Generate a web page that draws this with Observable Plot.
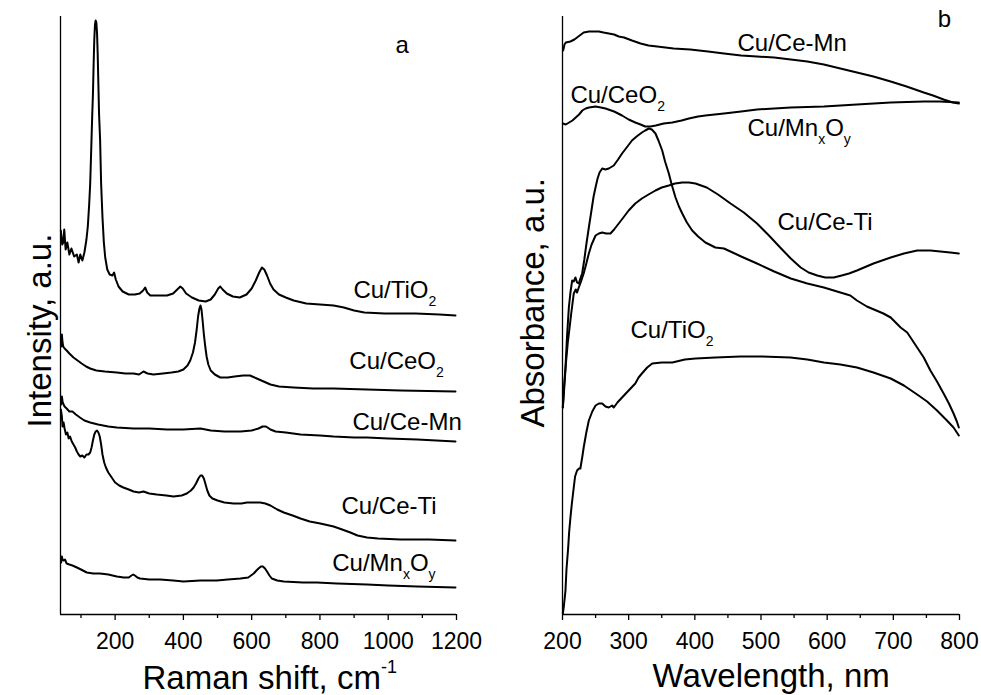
<!DOCTYPE html>
<html><head><meta charset="utf-8">
<script src="https://cdn.jsdelivr.net/npm/d3@7"></script>
<script src="https://cdn.jsdelivr.net/npm/@observablehq/plot@0.6"></script>
<style>
body{margin:0;background:#fff;}
#wrap{display:flex;width:981px;height:695px;}
#wrap svg{display:block;}
</style></head><body><div id="wrap"></div>
<script>
// ---------- Panel a: Raman spectra (x: cm-1, y: intensity, a.u.) ----------
const ramanTiO2 = [[41,384],[45,370],[48,372],[51,385],[55,365],[60,372],[66,360],[72,366],[80,358],[88,360],[93,352],[98,360],[104,354],[110,362],[116,375],[120,388],[124,410],[127,431],[130,465],[133,500],[135,520],[137,550],[139,575],[141,590],[143,594],[145,592],[147,582],[149,560],[151,530],[153,500],[156,475],[159,431],[163,397],[167,372],[171,357],[177,345],[184,340],[192,339],[197,342],[202,335],[210,328],[222,323],[240,320],[258,320],[272,321],[282,324],[288,327],[294,322],[303,319],[330,319],[352,319],[370,321],[382,325],[391,328],[398,326],[408,321],[425,317],[445,314],[465,313],[480,315],[492,320],[502,326],[508,328],[515,325],[527,321],[545,318],[565,317],[585,320],[600,326],[612,334],[622,342],[630,347],[637,345],[645,339],[654,331],[664,325],[680,320],[700,317],[723,314],[760,311],[800,310],[840,309],[870,307],[900,304],[930,302],[990,301],[1080,301],[1150,300],[1197,299]];
const ramanCeO2 = [[43,268],[44,280],[46,272],[48,268],[52,266],[58,264],[66,261],[78,257],[90,254],[102,251],[115,248],[127,246],[145,244],[170,243],[205,242],[230,241],[254,241],[270,240],[283,243],[295,241],[312,240],[340,241],[365,242],[385,243],[400,245],[412,249],[420,254],[428,262],[434,272],[439,285],[443,298],[447,306],[450,309],[453,305],[456,295],[460,280],[464,268],[468,258],[473,250],[480,244],[492,240],[508,237],[530,237],[550,238],[575,239],[595,239],[615,236],[635,233],[655,230],[680,228],[723,227],[780,226],[840,226],[938,225],[1036,224],[1197,223]];
const ramanCeMn = [[42,210],[44,218],[46,213],[49,210],[52,208],[58,206],[66,203],[75,203],[85,200],[97,197],[110,194],[127,192],[150,190],[180,188],[205,187],[254,186],[300,186],[352,185],[400,185],[450,186],[480,184],[520,183],[567,183],[600,184],[620,186],[632,188],[642,188],[655,185],[670,183],[700,182],[743,180],[800,179],[840,178],[900,177],[938,177],[1000,176],[1085,175],[1197,173]];
const ramanCeTi = [[41,205],[44,198],[46,188],[49,192],[52,186],[56,180],[60,182],[64,176],[68,178],[73,173],[78,170],[83,167],[88,163],[93,160],[98,158],[104,159],[110,157],[116,160],[122,160],[127,162],[131,167],[135,174],[139,180],[143,183],[147,184],[151,182],[155,178],[159,170],[163,160],[168,152],[173,147],[180,142],[190,137],[200,132],[212,129],[224,127],[240,125],[254,123],[270,122],[283,123],[300,121],[322,120],[350,119],[371,118],[395,119],[410,121],[422,124],[430,127],[437,131],[444,136],[450,139],[455,139],[460,136],[465,130],[470,124],[476,119],[485,116],[500,114],[520,112],[547,111],[570,111],[586,112],[605,112],[625,112],[640,111],[655,109],[675,105],[694,102],[720,99],[743,96],[770,93],[801,91],[840,88],[865,85],[889,82],[910,79],[938,77],[970,76],[1036,75],[1120,75],[1197,74]];
const ramanMnOx = [[42,52],[44,58],[46,55],[49,54],[53,55],[58,51],[66,50],[75,49],[88,47],[100,45],[117,42],[136,41],[156,41],[180,40],[205,38],[225,37],[240,37],[248,39],[253,40],[258,39],[265,37],[273,36],[300,35],[332,35],[370,34],[400,33],[450,34],[498,34],[530,35],[567,36],[590,37],[606,41],[614,44],[620,46],[627,48],[633,48],[639,46],[645,43],[652,39],[659,36],[675,34],[694,33],[750,32],[791,32],[850,31],[938,30],[1000,29],[1085,28],[1197,27]];
const ramanNames = ["Cu/TiO2", "Cu/CeO2", "Cu/Ce-Mn", "Cu/Ce-Ti", "Cu/MnxOy"];
const ramanMajorTicks = [200, 400, 600, 800, 1000, 1200];
const ramanMinorTicks = [100, 300, 500, 700, 900, 1100];
const ramanLabelText = ["Cu/TiO_2", "Cu/CeO_2", "Cu/Ce-Mn", "Cu/Ce-Ti", "Cu/Mn_xO_y", "a"];
const ramanLabelX = [898, 886, 895, 863, 836, 1021];
const ramanLabelY = [317, 246, 185, 101, 44, 562];

// ---------- Panel b: UV-vis spectra (x: nm, y: absorbance, a.u.) ----------
const uvCeMn = [[201,564],[203,570],[205,572],[212,573],[218,575],[222,577],[228,580],[232,582],[240,583],[247,583],[255,583],[262,582],[270,581],[278,580],[285,578],[293,577],[305,574],[318,571],[330,569],[343,568],[368,566],[393,565],[420,563],[444,561],[470,559],[494,558],[520,557],[545,555],[570,553],[595,550],[620,546],[645,542],[670,538],[696,533],[720,528],[746,522],[760,519],[776,515],[790,512],[799,511]];
const uvMnOx = [[200.5,491],[205,490],[210,492],[215,494],[220,497],[225,500],[230,504],[235,506],[240,507],[250,508],[258,507],[265,506],[278,503],[290,499],[300,495],[310,492],[318,490],[325,488],[333,488],[341,489],[353,491],[366,492],[380,494],[391,496],[405,498],[416,499],[444,501],[470,503],[494,505],[520,506],[545,507],[595,508],[645,510],[696,512],[746,513],[770,513],[799,512]];
const uvCeO2 = [[200.5,207],[202,225],[204.5,247],[207,280],[209.6,307],[212,322],[214.6,334],[217,333],[219.6,337],[222,332],[224.6,331],[227,336],[229.7,341],[233,355],[236,370],[239.8,387],[244,405],[247,418],[249.9,427],[253,436],[256,442],[260,446],[265,445],[270,446],[277.5,449],[284,455],[290,461],[297,467],[305,474],[312,478],[320,482],[325,484],[330.5,486],[335,485],[340.5,481],[345,474],[350.7,464],[355,453],[360.7,441],[365,430],[370.8,417],[376,408],[381,401],[388,392],[396,384],[405,378],[416,372],[431,367],[444,366],[470,358],[494,351],[520,343],[545,336],[570,331],[595,327],[620,322],[635,319],[645,314],[660,308],[685,301],[696,297],[711,287],[721,282],[736,267],[746,257],[756,244],[766,233],[776,221],[784,211],[791,201],[796,193],[799,187]];
const uvCeTi = [[200.5,207],[202,220],[205,250],[208,272],[210,283],[213,300],[217,321],[220,325],[222,322],[224.6,327],[228,333],[232,341],[236,351],[239.8,361],[244,370],[250,379],[255,381],[260,382],[266,381],[272.5,381],[278,385],[285,391],[292,397],[300,404],[310,411],[320,416],[330,420],[340.5,424],[350,427],[360.7,429],[370,431],[381,432],[391,432],[401,431],[418,427],[435,420],[454,411],[474,402],[494,391],[512,379],[529,367],[545,356],[560,347],[572,342],[585,339],[597,337],[610,337],[622,339],[633,341],[645,344],[670,351],[696,357],[716,361],[736,364],[756,364],[771,363],[786,362],[799,361]];
const uvTiO2 = [[200.5,1],[202,8],[204.5,24],[206,45],[208.6,67],[210,82],[212,97],[214,110],[217,127],[219,138],[222,144],[225,146],[227,146],[230,158],[232,167],[236,182],[239.8,194],[245,203],[250,209],[255,211],[260,211],[265,208],[270,207],[275,209],[277.5,207],[283,212],[290,217],[300,224],[310,231],[315,237],[320,241],[328,247],[335.6,251],[350,252],[366,252],[385,255],[401,256],[431,257],[469,258],[500,258],[544.6,257],[570,255],[595,252],[620,250],[645,247],[670,242],[696,236],[716,229],[736,220],[751,213],[766,204],[781,194],[791,187],[799,179]];
const uvNames = ["Cu/Ce-Mn", "Cu/MnxOy", "Cu/CeO2", "Cu/Ce-Ti", "Cu/TiO2"];
const uvMajorTicks = [200, 300, 400, 500, 600, 700, 800];
const uvMinorTicks = [250, 350, 450, 550, 650, 750];
const uvLabelText = ["Cu/Ce-Mn", "Cu/CeO_2", "Cu/Mn_xO_y", "Cu/Ce-Ti", "Cu/TiO_2", "b"];
const uvLabelX = [464.5, 212, 479.6, 525, 302.8, 767];
const uvLabelY = [564, 512, 479, 385, 277, 588];

const FONT = '"Liberation Sans", Arial, Helvetica, sans-serif';

function toRows(series, names) {
  return series.flatMap((s, i) => s.map(([x, y]) => ({x, y, name: names[i]})));
}
function toLabels(t, xs, ys) {
  return t.map((text, i) => ({text, x: xs[i], y: ys[i]}));
}

function panel(o) {
  return Plot.plot({
    width: o.width, height: 695,
    marginTop: 16, marginBottom: 81, marginLeft: o.marginLeft, marginRight: o.marginRight,
    style: {fontFamily: FONT, color: "#000", background: "#fff", overflow: "visible"},
    x: {domain: o.xDomain, axis: null},
    y: {domain: [0, 598], axis: null},
    marks: [
      Plot.ruleX([o.xDomain[0]], {stroke: "#000", strokeWidth: 1.3}),
      Plot.ruleY([0], {stroke: "#000", strokeWidth: 1.3}),
      Plot.axisX({ticks: o.major, tickSize: 6, tickPadding: 12, fontSize: 23, label: null, strokeWidth: 1.3, tickFormat: d => String(d)}),
      Plot.axisX({ticks: o.minor, tickSize: 4, tickFormat: () => "", label: null, strokeWidth: 1.3}),
      Plot.line(o.rows, {x: "x", y: "y", z: "name", stroke: "#000", strokeWidth: 2, strokeLinejoin: "round"}),
      Plot.text(o.labels, {x: "x", y: "y", text: "text", textAnchor: "start", lineAnchor: "bottom", fontSize: 24, fill: "#000"}),
      Plot.text([o.xTitle], {frameAnchor: "bottom-left", text: d => d, textAnchor: "start", lineAnchor: "bottom", dx: o.xTitleDx, dy: o.xTitleDy, fontSize: 33, fill: "#000"}),
      Plot.text([o.yTitle], {frameAnchor: "bottom-left", text: d => d, rotate: -90, textAnchor: "start", lineAnchor: "bottom", dx: o.yTitleDx, dy: -187, fontSize: 33, fill: "#000"})
    ]
  });
}

// convert _x / ^{..} markup into sub/superscript tspans
function richText(svg) {
  d3.select(svg).selectAll("text").each(function () {
    const s = this.textContent;
    if (!/[_^]/.test(s)) return;
    const segs = [];
    let buf = "";
    for (let i = 0; i < s.length; i++) {
      const c = s[i];
      if (c === "_" || c === "^") {
        if (buf) { segs.push({t: buf, k: null}); buf = ""; }
        let t;
        if (s[i + 1] === "{") { const j = s.indexOf("}", i); t = s.slice(i + 2, j); i = j; }
        else { t = s[i + 1]; i++; }
        segs.push({t, k: c === "_" ? "sub" : "sup"});
      } else buf += c;
    }
    if (buf) segs.push({t: buf, k: null});
    this.textContent = "";
    let cur = 0;
    const el = d3.select(this);
    for (const seg of segs) {
      const ts = el.append("tspan").text(seg.t);
      const target = seg.k === "sub" ? 8 : seg.k === "sup" ? -16 : 0;
      if (target !== cur) ts.attr("dy", target - cur);
      cur = target;
      if (seg.k === "sub") ts.attr("font-size", 14);
      if (seg.k === "sup") ts.attr("font-size", 18);
    }
  });
}

const left = panel({
  width: 490, marginLeft: 60, marginRight: 34,
  xDomain: [40, 1200], major: ramanMajorTicks, minor: ramanMinorTicks,
  rows: toRows([ramanTiO2, ramanCeO2, ramanCeMn, ramanCeTi, ramanMnOx], ramanNames),
  labels: toLabels(ramanLabelText, ramanLabelX, ramanLabelY),
  xTitle: "Raman shift, cm^{-1}", xTitleDx: 82, xTitleDy: 74,
  yTitle: "Intensity, a.u.", yTitleDx: -10
});
const right = panel({
  width: 491, marginLeft: 72, marginRight: 22,
  xDomain: [200, 800], major: uvMajorTicks, minor: uvMinorTicks,
  rows: toRows([uvCeMn, uvMnOx, uvCeO2, uvCeTi, uvTiO2], uvNames),
  labels: toLabels(uvLabelText, uvLabelX, uvLabelY),
  xTitle: "Wavelength, nm", xTitleDx: 90, xTitleDy: 72,
  yTitle: "Absorbance, a.u.", yTitleDx: -19
});
richText(left);
richText(right);
document.getElementById("wrap").append(left, right);
</script>
</body></html>
